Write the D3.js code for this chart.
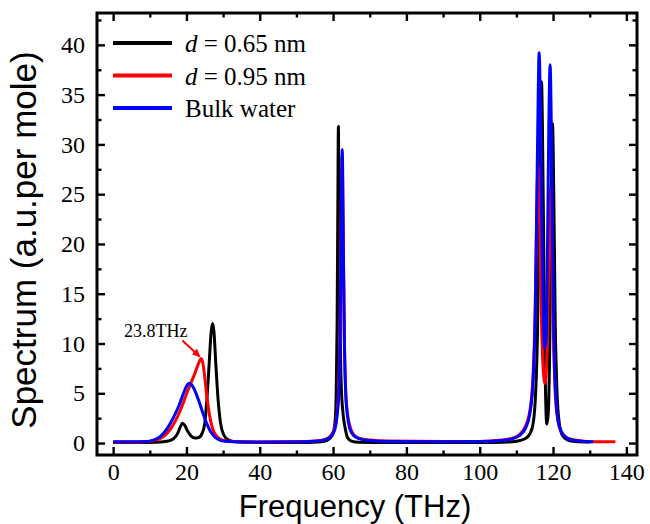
<!DOCTYPE html>
<html lang="en">
<head>
    <meta charset="UTF-8">
    <title>Spectrum vs Frequency</title>
    <script src="https://d3js.org/d3.v7.min.js"></script>
    <style>
        body { margin: 0; background: #fff; }
        svg { display: block; }
    </style>
</head>
<body>
    <div id="chart-container"></div>

    <script>
        // Data: [frequency (THz), spectrum]
        const black065 = [
            [0,0.05],[5,0.05],[10,0.06],[13,0.1],[15,0.2],[16.5,0.45],[17.5,0.9],[18.3,1.6],[18.9,2.0],[19.5,1.8],
            [20.3,1.2],[21.3,0.7],[22.3,0.5],[23.3,0.55],[24.3,1.0],[25.0,2.0],[25.6,4.5],[26.2,8.0],[26.7,11.0],[27.1,12.0],
            [27.5,11.2],[28.0,8.0],[28.6,4.5],[29.3,2.0],[30.2,0.8],[31.5,0.3],[34,0.1],[40,0.05],[50,0.05],[56,0.1],
            [58.5,0.3],[59.8,0.8],[60.5,2],[60.85,5],[61.1,12],[61.3,24],[61.45,31.8],[61.65,24],[61.9,12],[62.2,6],
            [62.7,3],[63.3,1.5],[64,0.5],[65,0.2],[67,0.08],[75,0.05],[100,0.05],[108,0.1],[111,0.25],[113,0.6],
            [114.3,1.5],[115.1,4],[115.7,10],[116.2,22],[116.6,33],[116.85,36.3],[117.1,32],[117.5,18],[117.9,6],[118.3,1.9],
            [118.7,3],[119.1,10],[119.5,24],[119.85,32.1],[120.2,25],[120.6,12],[121.1,5],[121.7,2],[122.5,0.8],[124,0.3],
            [126,0.15],[130,0.1]
        ];
        const red095 = [
            [0,0.1],[5,0.1],[9,0.12],[11,0.25],[13,0.5],[14.5,0.9],[16,1.6],[17.5,2.6],[19,3.9],[20.2,5.1],
            [21.3,6.1],[22.3,7.0],[23.2,7.9],[24.0,8.5],[24.5,8.0],[25.0,6.6],[25.6,4.6],[26.3,2.8],[27.1,1.5],[28,0.8],
            [29.5,0.35],[31,0.2],[34,0.12],[40,0.1],[50,0.12],[55,0.2],[58,0.4],[59.5,0.8],[60.5,1.6],[61.1,3],
            [61.5,5.5],[61.85,11],[62.15,21],[62.45,28.8],[62.75,21],[63.05,11],[63.4,5.5],[63.9,3],[64.6,1.7],[65.5,0.9],
            [67,0.5],[70,0.3],[75,0.2],[90,0.15],[100,0.15],[106,0.3],[109,0.5],[111,0.9],[112.5,1.7],[113.7,3.3],
            [114.5,6.5],[115.1,13],[115.5,22],[115.9,28],[116.3,24],[116.8,13],[117.3,7.5],[117.8,6],[118.3,8.5],[118.8,17],
            [119.2,25.6],[119.6,20],[120.1,11],[120.6,5],[121.3,2.3],[122.3,1.1],[124,0.5],[126,0.3],[129,0.15],[131,0.12],
            [137,0.12]
        ];
        const blueBulk = [
            [0,0.12],[5,0.12],[9,0.15],[11,0.3],[13,0.7],[15,1.6],[16.5,2.6],[18,3.8],[19.2,5.0],[20.0,5.7],
            [20.7,6.0],[21.5,5.8],[22.5,5.1],[23.5,4.1],[24.5,3.0],[25.5,2.0],[26.5,1.2],[27.5,0.7],[28.5,0.4],[30,0.2],
            [33,0.12],[40,0.1],[50,0.12],[55,0.18],[58,0.35],[59.5,0.7],[60.5,1.4],[61.1,2.8],[61.55,5],[61.9,10],
            [62.2,20],[62.5,29.5],[62.8,20],[63.1,10],[63.45,5],[63.9,2.8],[64.5,1.5],[65.5,0.8],[67,0.45],[70,0.25],
            [75,0.15],[90,0.12],[100,0.15],[106,0.25],[109,0.45],[111,0.8],[112.5,1.5],[113.7,3],[114.6,6.5],[115.2,14],
            [115.6,25],[115.95,35],[116.2,39.2],[116.5,35],[116.9,23],[117.3,14],[117.7,9.5],[118.1,10.5],[118.5,20],[118.85,32],
            [119.2,38.0],[119.55,31],[119.9,19],[120.3,9],[120.8,4.5],[121.5,2],[122.5,1],[124,0.45],[126,0.25],[129,0.15],
            [131,0.12]
        ];

        const series = [
            {name: "0.65", values: black065, color: "#000000"},
            {name: "0.95", values: red095, color: "#ff0000"},
            {name: "Bulk water", values: blueBulk, color: "#0000ff"}
        ];

        const xTicks = [0, 20, 40, 60, 80, 100, 120, 140];
        const xMinor = [10, 30, 50, 70, 90, 110, 130];
        const yTicks = [0, 5, 10, 15, 20, 25, 30, 35, 40];
        const yMinor = [2.5, 7.5, 12.5, 17.5, 22.5, 27.5, 32.5, 37.5, 42.5];

        const width = 650;
        const height = 524;
        const margin = {left: 97, right: 13, top: 13, bottom: 69};

        const svg = d3.select("#chart-container")
            .append("svg")
            .attr("width", width)
            .attr("height", height);

        const xScale = d3.scaleLinear()
            .domain([-4.4, 142.9])
            .range([margin.left, width - margin.right]);
        const yScale = d3.scaleLinear()
            .domain([-1.2, 43.2])
            .range([height - margin.bottom, margin.top]);

        const x0 = margin.left, x1 = width - margin.right;
        const y0 = height - margin.bottom, y1 = margin.top;

        // curves
        const line = d3.line()
            .x(d => xScale(d[0]))
            .y(d => yScale(d[1]))
            .curve(d3.curveMonotoneX);

        svg.selectAll("path.series")
            .data(series)
            .enter()
            .append("path")
            .attr("class", "series")
            .attr("d", d => line(d.values))
            .attr("fill", "none")
            .attr("stroke", d => d.color)
            .attr("stroke-width", 3)
            .attr("stroke-linejoin", "round");

        // axes: inward ticks on all four sides
        function styleAxis(g) {
            g.select(".domain").remove();
            g.selectAll(".tick line").attr("stroke", "#000").attr("stroke-width", 2.4);
            g.selectAll(".tick text")
                .attr("fill", "#000")
                .attr("font-family", "'Liberation Serif', 'Times New Roman', serif")
                .attr("font-size", "24px");
        }

        svg.append("g")
            .attr("transform", `translate(0, ${y0})`)
            .call(d3.axisBottom(xScale).tickValues(xTicks).tickSizeInner(-8).tickSizeOuter(0).tickPadding(8))
            .call(styleAxis);
        svg.append("g")
            .attr("transform", `translate(0, ${y0})`)
            .call(d3.axisBottom(xScale).tickValues(xMinor).tickSizeInner(-4.5).tickSizeOuter(0).tickFormat(""))
            .call(styleAxis);
        svg.append("g")
            .attr("transform", `translate(0, ${y1})`)
            .call(d3.axisTop(xScale).tickValues(xTicks).tickSizeInner(-8).tickSizeOuter(0).tickFormat(""))
            .call(styleAxis);
        svg.append("g")
            .attr("transform", `translate(0, ${y1})`)
            .call(d3.axisTop(xScale).tickValues(xMinor).tickSizeInner(-4.5).tickSizeOuter(0).tickFormat(""))
            .call(styleAxis);

        svg.append("g")
            .attr("transform", `translate(${x0}, 0)`)
            .call(d3.axisLeft(yScale).tickValues(yTicks).tickSizeInner(-8).tickSizeOuter(0).tickPadding(12))
            .call(styleAxis);
        svg.append("g")
            .attr("transform", `translate(${x0}, 0)`)
            .call(d3.axisLeft(yScale).tickValues(yMinor).tickSizeInner(-4.5).tickSizeOuter(0).tickFormat(""))
            .call(styleAxis);
        svg.append("g")
            .attr("transform", `translate(${x1}, 0)`)
            .call(d3.axisRight(yScale).tickValues(yTicks).tickSizeInner(-8).tickSizeOuter(0).tickFormat(""))
            .call(styleAxis);
        svg.append("g")
            .attr("transform", `translate(${x1}, 0)`)
            .call(d3.axisRight(yScale).tickValues(yMinor).tickSizeInner(-4.5).tickSizeOuter(0).tickFormat(""))
            .call(styleAxis);

        // frame
        svg.append("rect")
            .attr("x", x0)
            .attr("y", y1)
            .attr("width", x1 - x0)
            .attr("height", y0 - y1)
            .attr("fill", "none")
            .attr("stroke", "#000")
            .attr("stroke-width", 3);

        // axis titles
        svg.append("text")
            .attr("x", 355)
            .attr("y", 517)
            .attr("text-anchor", "middle")
            .attr("font-family", "'Liberation Sans', Arial, sans-serif")
            .attr("font-size", "31px")
            .text("Frequency (THz)");

        svg.append("text")
            .attr("transform", "translate(36, 240) rotate(-90)")
            .attr("text-anchor", "middle")
            .attr("font-family", "'Liberation Sans', Arial, sans-serif")
            .attr("font-size", "35px")
            .text("Spectrum (a.u.per mole)");

        // legend
        const legend = svg.append("g")
            .attr("font-family", "'Liberation Serif', 'Times New Roman', serif")
            .attr("font-size", "25px");
        series.forEach((s, i) => {
            const ly = 43 + i * 32.5;
            legend.append("line")
                .attr("x1", 113).attr("x2", 172)
                .attr("y1", ly).attr("y2", ly)
                .attr("stroke", s.color)
                .attr("stroke-width", 4);
            const t = legend.append("text")
                .attr("x", 185)
                .attr("y", ly + 9);
            if (i < 2) {
                t.append("tspan").attr("font-style", "italic").text("d");
                t.append("tspan").text(` = ${s.name} nm`);
            } else {
                t.text(s.name);
            }
        });

        // annotation for the red low-frequency peak
        svg.append("defs").append("marker")
            .attr("id", "arrow")
            .attr("viewBox", "0 0 10 10")
            .attr("refX", 9)
            .attr("refY", 5)
            .attr("markerWidth", 4)
            .attr("markerHeight", 4)
            .attr("orient", "auto")
            .append("path")
            .attr("d", "M0,0 L10,5 L0,10 z")
            .attr("fill", "#ff0000");

        svg.append("line")
            .attr("x1", xScale(18.9)).attr("y1", yScale(10.3))
            .attr("x2", xScale(23.6)).attr("y2", yScale(8.7))
            .attr("stroke", "#ff0000")
            .attr("stroke-width", 2)
            .attr("marker-end", "url(#arrow)");

        svg.append("text")
            .attr("x", 124)
            .attr("y", 337)
            .attr("font-family", "'Liberation Serif', 'Times New Roman', serif")
            .attr("font-size", "18px")
            .text("23.8THz");
    </script>
</body>
</html>
